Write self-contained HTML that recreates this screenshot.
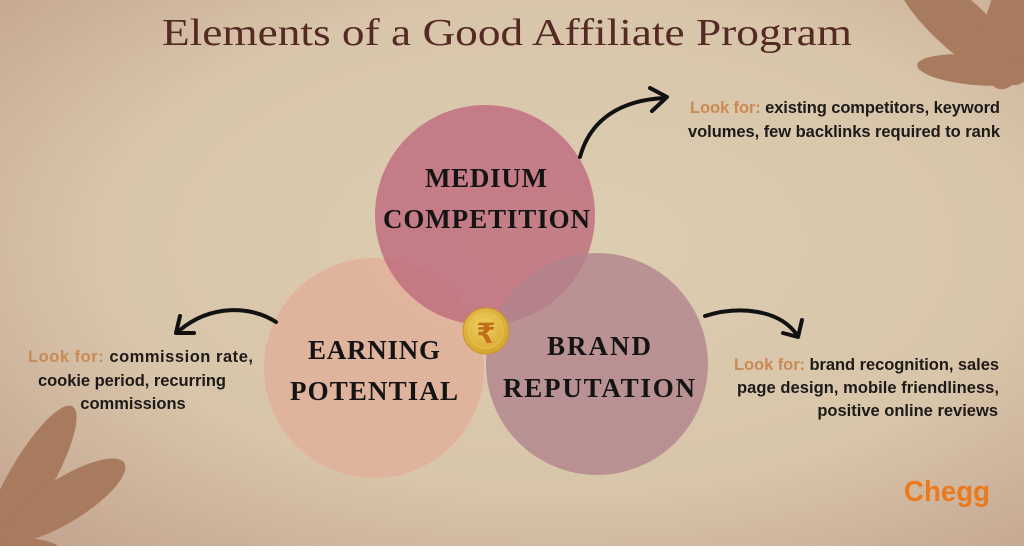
<!DOCTYPE html>
<html><head><meta charset="utf-8"><style>
html,body{margin:0;padding:0;}
body{width:1024px;height:546px;overflow:hidden;}
</style></head><body>
<svg width="1024" height="546" viewBox="0 0 1024 546" xmlns="http://www.w3.org/2000/svg">
<defs>
<radialGradient id="bg" cx="0.55" cy="0.45" r="0.75">
<stop offset="0" stop-color="#ddcdb1"/>
<stop offset="0.6" stop-color="#d8c5aa"/>
<stop offset="1" stop-color="#c4a48f"/>
</radialGradient>
<radialGradient id="coin" cx="0.45" cy="0.4" r="0.6">
<stop offset="0" stop-color="#f2d262"/>
<stop offset="1" stop-color="#d4a52c"/>
</radialGradient>
</defs>
<rect width="1024" height="546" fill="url(#bg)"/>
<g fill="#a87a5e">
<ellipse cx="960" cy="25" rx="85" ry="26" transform="rotate(42 960 25)"/>
<ellipse cx="1010" cy="30" rx="60" ry="26" transform="rotate(-80 1010 30)"/>
<ellipse cx="975" cy="70" rx="58" ry="15" transform="rotate(5 975 70)"/>
</g>
<g fill="#a87a5e">
<ellipse cx="30" cy="480" rx="85" ry="22" transform="rotate(-60 30 480)"/>
<ellipse cx="65" cy="500" rx="70" ry="22" transform="rotate(-32 65 500)"/>
<ellipse cx="20" cy="550" rx="40" ry="12"/>
</g>
<text x="162" y="45" font-family="Liberation Serif, serif" font-size="38" fill="#552a24" textLength="690" lengthAdjust="spacingAndGlyphs">Elements of a Good Affiliate Program</text>
<circle cx="374" cy="368" r="110" fill="#e0b29c" opacity="0.95"/>
<circle cx="485" cy="215" r="110" fill="#c0707f" opacity="0.85"/>
<circle cx="597" cy="364" r="111" fill="#b2838c" opacity="0.8"/>
<g font-family="Liberation Serif, serif" font-weight="bold" fill="#141414" font-size="27" lengthAdjust="spacing">
<text x="425" y="187" textLength="122">MEDIUM</text>
<text x="383" y="228" textLength="207">COMPETITION</text>
<text x="308" y="359" textLength="132">EARNING</text>
<text x="290" y="400" textLength="168">POTENTIAL</text>
<text x="547" y="355" textLength="104">BRAND</text>
<text x="503" y="397" textLength="192">REPUTATION</text>
</g>
<circle cx="486" cy="331" r="23" fill="url(#coin)" stroke="#c8962a" stroke-width="1"/>
<circle cx="486" cy="331" r="17" fill="none" stroke="#e8c55a" stroke-width="1"/>
<text x="486" y="343" text-anchor="middle" font-family="DejaVu Sans, sans-serif" font-weight="bold" font-size="28" fill="#c06f1c">₹</text>
<g fill="none" stroke="#111" stroke-width="4" stroke-linecap="round" stroke-linejoin="round">
<path d="M580 157 C590 120 620 100 665 98"/>
<path d="M650 88 L667 97 L652 111"/>
<path d="M276 322 C250 305 210 305 180 330"/>
<path d="M180 316 L176 333 L194 333"/>
<path d="M705 316 C740 305 780 310 797 335"/>
<path d="M783 333 L798 337 L802 320"/>
</g>
<g font-family="Liberation Sans, sans-serif" font-weight="bold" font-size="16.5" fill="#1e1a18" lengthAdjust="spacingAndGlyphs">
<text x="690" y="113" textLength="310"><tspan fill="#c98a55">Look for:</tspan> existing competitors, keyword</text>
<text x="688" y="137" textLength="312">volumes, few backlinks required to rank</text>
<text x="28" y="362" textLength="225"><tspan fill="#c98a55">Look for:</tspan> commission rate,</text>
<text x="38" y="386" textLength="188">cookie period, recurring</text>
<text x="133" y="409" text-anchor="middle">commissions</text>
<text x="734" y="370" textLength="265"><tspan fill="#c98a55">Look for:</tspan> brand recognition, sales</text>
<text x="737" y="393" textLength="262">page design, mobile friendliness,</text>
<text x="998" y="416" text-anchor="end">positive online reviews</text>
</g>
<text x="904" y="501" font-family="Liberation Sans, sans-serif" font-weight="bold" font-size="29" fill="#eb7a1e" textLength="86" lengthAdjust="spacingAndGlyphs">Chegg</text>
</svg>
</body></html>
